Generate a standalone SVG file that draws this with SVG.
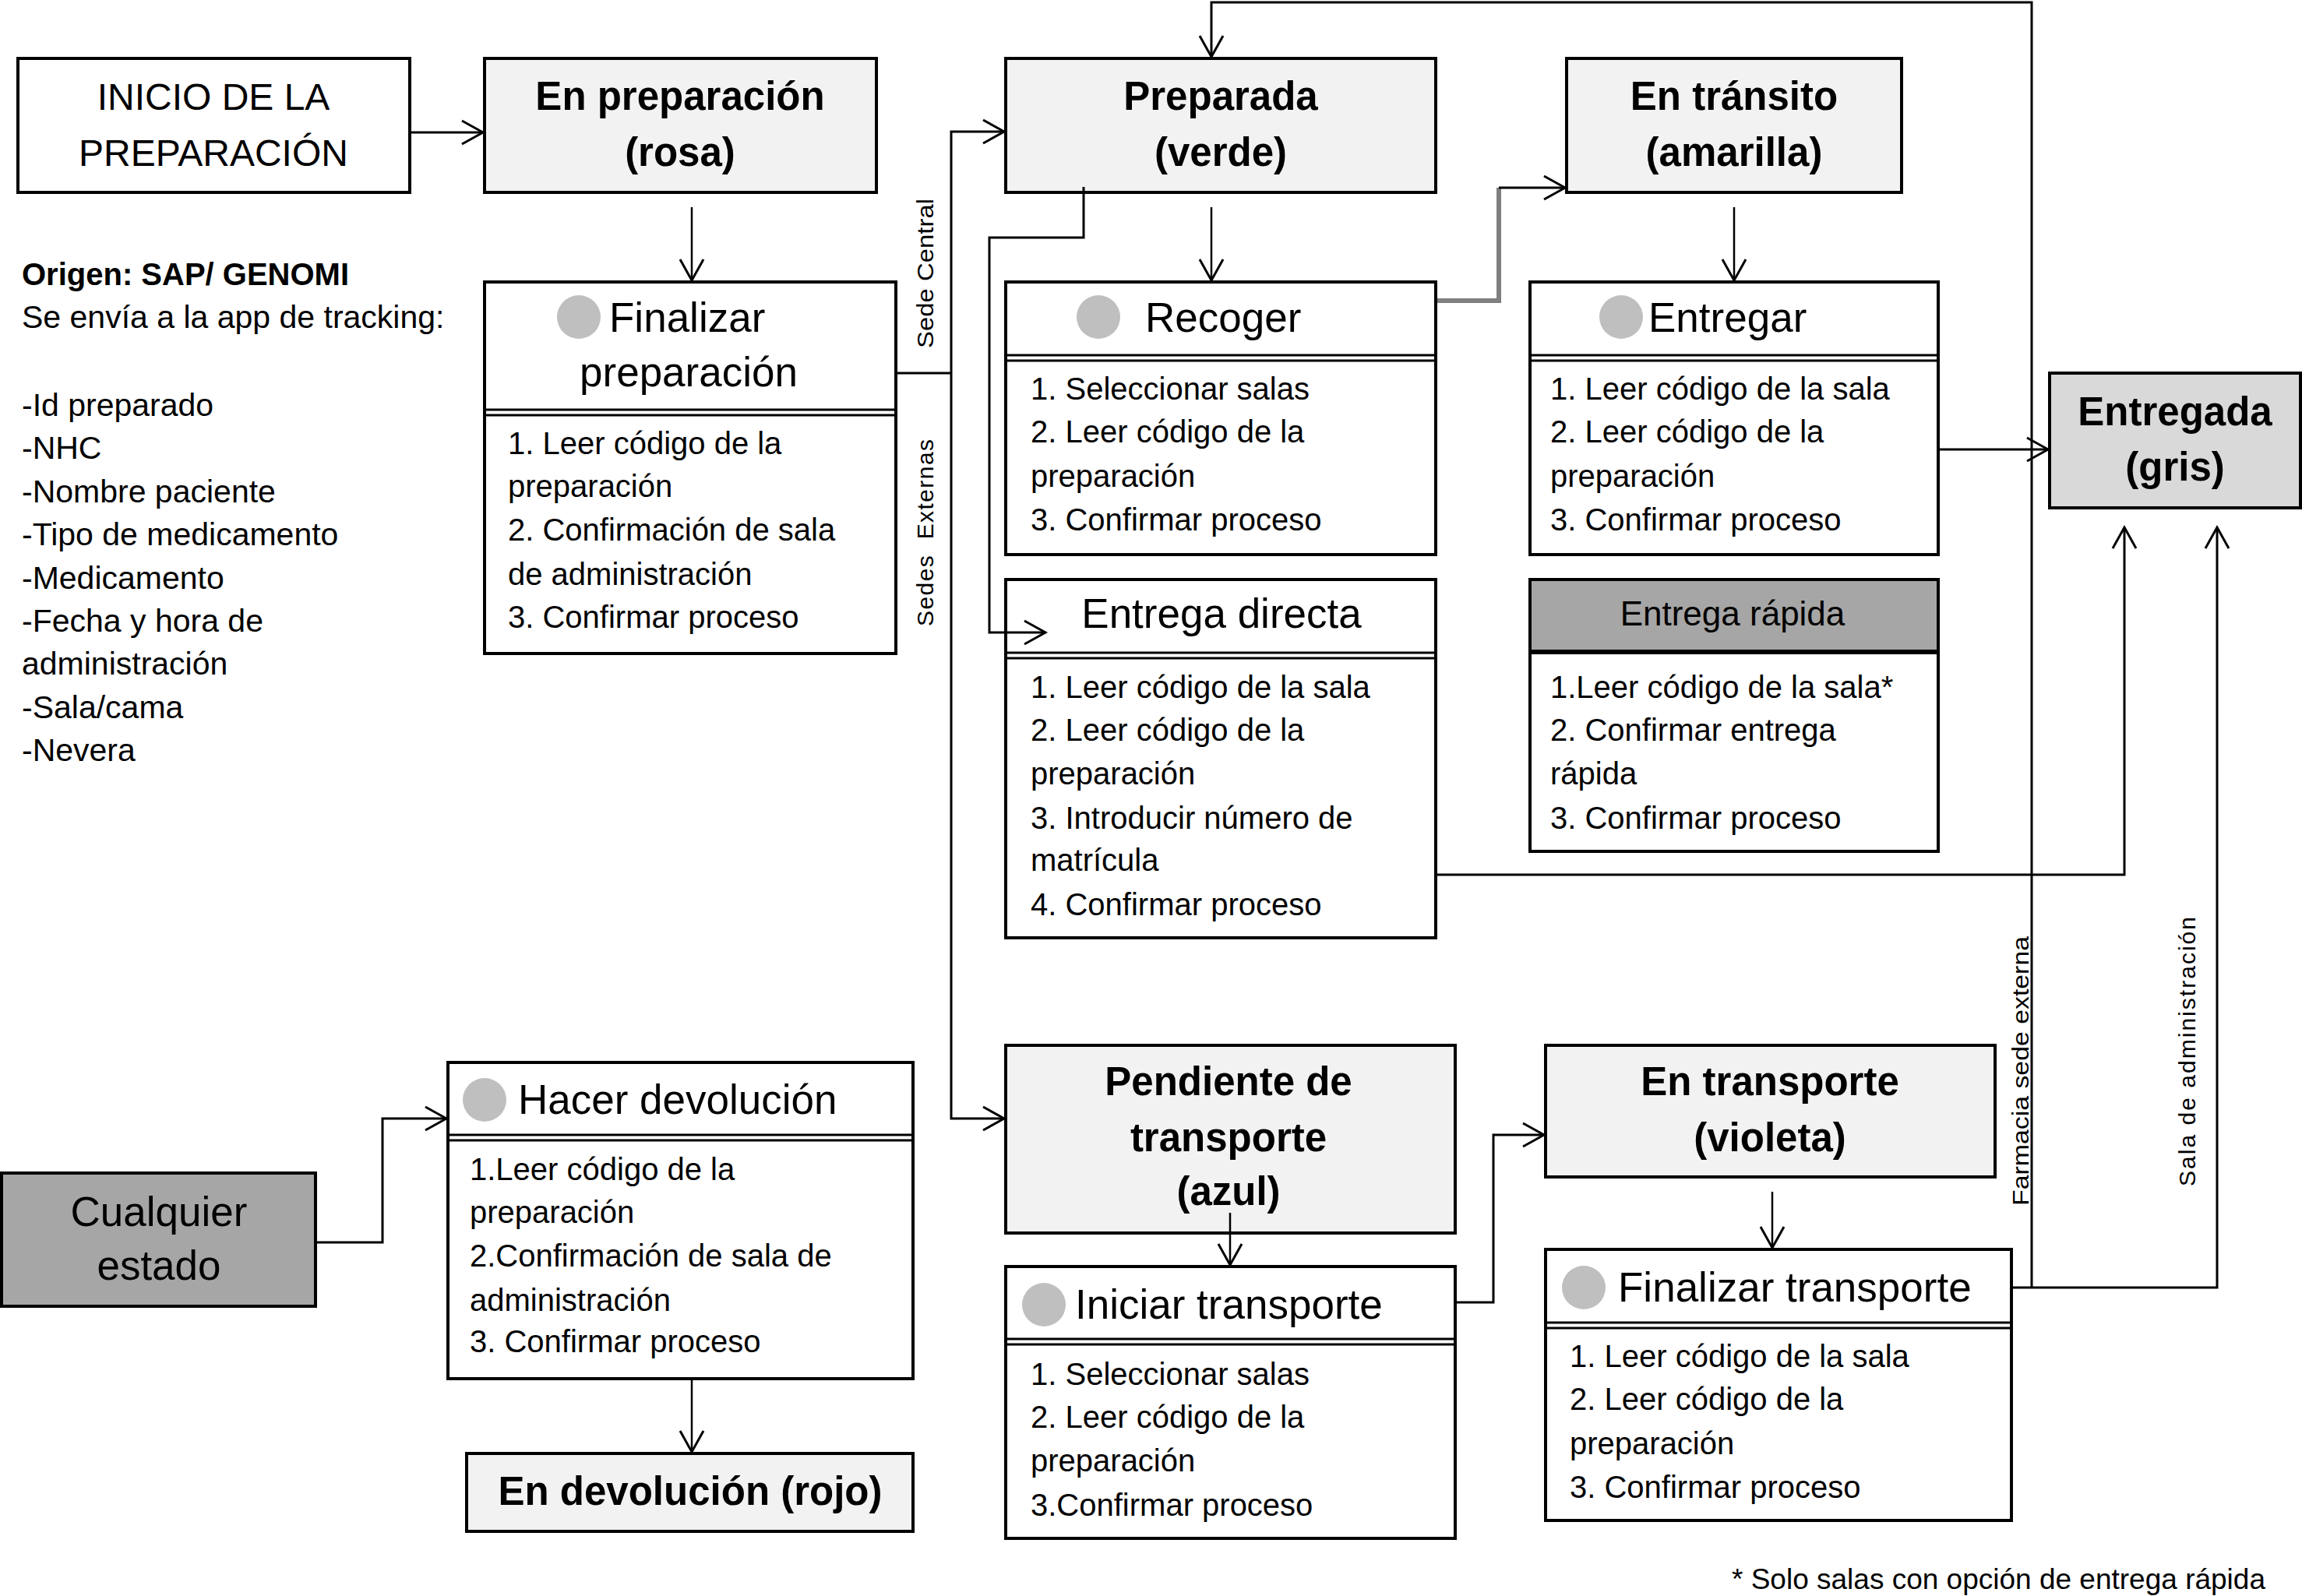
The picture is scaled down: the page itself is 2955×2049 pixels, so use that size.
<svg xmlns="http://www.w3.org/2000/svg" width="2955" height="2049" viewBox="0 0 2955 2049">
<defs>
<style>
text{font-family:"Liberation Sans",Arial,sans-serif;fill:#000}
.box{fill:#fff;stroke:#000;stroke-width:4}
.state{fill:#f2f2f2;stroke:#000;stroke-width:4}
.dark{fill:#a6a6a6;stroke:#000;stroke-width:4}
.grey{fill:#d9d9d9;stroke:#000;stroke-width:4}
.sep{stroke:#000;stroke-width:3}
.dot{fill:#bfbfbf}
.title{font-size:51px;font-weight:bold;text-anchor:middle}
.plain{font-size:50px;text-anchor:middle}
.head{font-size:53px}
.body{font-size:40px}
.lbl{font-size:30px;text-anchor:middle}
.c{fill:none;stroke:#000;stroke-width:3}
.ct{fill:none;stroke:#000;stroke-width:2.5}
.cg{fill:none;stroke:#7f7f7f;stroke-width:6}
</style>
<marker id="arr" markerUnits="userSpaceOnUse" markerWidth="40" markerHeight="40" viewBox="-32 -20 36 40" refX="0" refY="0" orient="auto">
<path d="M-27,-15 L0,0 L-27,15" fill="none" stroke="#000" stroke-width="3"/>
</marker>
</defs>

<g id="inicio">
<rect class="box" x="23" y="75" width="503" height="172"/>
<text class="plain" x="274" y="141" style="font-size:48px">INICIO DE LA</text>
<text class="plain" x="274" y="213" style="font-size:48px">PREPARACIÓN</text>
</g>

<g id="en-preparacion">
<rect class="state" x="622" y="75" width="503" height="172"/>
<text class="title" x="873" y="141">En preparación</text>
<text class="title" x="873" y="213">(rosa)</text>
</g>

<g id="origen">
<text class="body" x="28" y="366" font-weight="bold" style="font-size:40px">Origen: SAP/ GENOMI</text>
<text class="body" x="28" y="421" style="font-size:41px">Se envía a la app de tracking:</text>
<text class="body" x="28" y="534" style="font-size:41px">-Id preparado</text>
<text class="body" x="28" y="589" style="font-size:41px">-NHC</text>
<text class="body" x="28" y="645" style="font-size:41px">-Nombre paciente</text>
<text class="body" x="28" y="700" style="font-size:41px">-Tipo de medicamento</text>
<text class="body" x="28" y="756" style="font-size:41px">-Medicamento</text>
<text class="body" x="28" y="811" style="font-size:41px">-Fecha y hora de</text>
<text class="body" x="28" y="866" style="font-size:41px">administración</text>
<text class="body" x="28" y="922" style="font-size:41px">-Sala/cama</text>
<text class="body" x="28" y="977" style="font-size:41px">-Nevera</text>
</g>

<g id="finalizar-preparacion">
<rect class="box" x="622" y="362" width="528" height="477"/>
<line class="sep" x1="622" y1="526" x2="1150" y2="526"/>
<line class="sep" x1="622" y1="533" x2="1150" y2="533"/>
<circle class="dot" cx="743" cy="407" r="28"/>
<text class="head" x="782" y="426">Finalizar</text>
<text class="head" x="884" y="496" text-anchor="middle">preparación</text>
<text class="body" x="652" y="583">1. Leer código de la</text>
<text class="body" x="652" y="638">preparación</text>
<text class="body" x="652" y="694">2. Confirmación de sala</text>
<text class="body" x="652" y="751">de administración</text>
<text class="body" x="652" y="806">3. Confirmar proceso</text>
</g>

<g id="preparada">
<rect class="state" x="1291" y="75" width="552" height="172"/>
<text class="title" x="1567" y="141">Preparada</text>
<text class="title" x="1567" y="213">(verde)</text>
</g>

<g id="en-transito">
<rect class="state" x="2011" y="75" width="430" height="172"/>
<text class="title" x="2226" y="141">En tránsito</text>
<text class="title" x="2226" y="213">(amarilla)</text>
</g>

<g id="recoger">
<rect class="box" x="1291" y="362" width="552" height="350"/>
<line class="sep" x1="1291" y1="456" x2="1843" y2="456"/>
<line class="sep" x1="1291" y1="463" x2="1843" y2="463"/>
<circle class="dot" cx="1410" cy="407" r="28"/>
<text class="head" x="1470" y="426">Recoger</text>
<text class="body" x="1323" y="513">1. Seleccionar salas</text>
<text class="body" x="1323" y="568">2. Leer código de la</text>
<text class="body" x="1323" y="625">preparación</text>
<text class="body" x="1323" y="681">3. Confirmar proceso</text>
</g>

<g id="entregar">
<rect class="box" x="1964" y="362" width="524" height="350"/>
<line class="sep" x1="1964" y1="456" x2="2488" y2="456"/>
<line class="sep" x1="1964" y1="463" x2="2488" y2="463"/>
<circle class="dot" cx="2081" cy="407" r="28"/>
<text class="head" x="2116" y="426">Entregar</text>
<text class="body" x="1990" y="513">1. Leer código de la sala</text>
<text class="body" x="1990" y="568">2. Leer código de la</text>
<text class="body" x="1990" y="625">preparación</text>
<text class="body" x="1990" y="681">3. Confirmar proceso</text>
</g>

<g id="entregada">
<rect class="grey" x="2631" y="479" width="322" height="173"/>
<text class="title" x="2792" y="546">Entregada</text>
<text class="title" x="2792" y="617">(gris)</text>
</g>

<g id="entrega-directa">
<rect class="box" x="1291" y="744" width="552" height="460"/>
<line class="sep" x1="1291" y1="838" x2="1843" y2="838"/>
<line class="sep" x1="1291" y1="845" x2="1843" y2="845"/>
<text class="head" x="1568" y="806" text-anchor="middle">Entrega directa</text>
<text class="body" x="1323" y="896">1. Leer código de la sala</text>
<text class="body" x="1323" y="951">2. Leer código de la</text>
<text class="body" x="1323" y="1007">preparación</text>
<text class="body" x="1323" y="1064">3. Introducir número de</text>
<text class="body" x="1323" y="1118">matrícula</text>
<text class="body" x="1323" y="1175">4. Confirmar proceso</text>
</g>

<g id="entrega-rapida">
<rect class="box" x="1964" y="744" width="524" height="349"/>
<rect x="1966" y="746" width="520" height="89" fill="#a6a6a6"/>
<line x1="1964" y1="837" x2="2488" y2="837" stroke="#000" stroke-width="6"/>
<text x="2224" y="803" text-anchor="middle" style="font-size:44px">Entrega rápida</text>
<text class="body" x="1990" y="896">1.Leer código de la sala*</text>
<text class="body" x="1990" y="951">2. Confirmar entrega</text>
<text class="body" x="1990" y="1007">rápida</text>
<text class="body" x="1990" y="1064">3. Confirmar proceso</text>
</g>

<g id="cualquier-estado">
<rect class="dark" x="2" y="1506" width="403" height="171"/>
<text class="plain" x="204" y="1574" style="font-size:53px">Cualquier</text>
<text class="plain" x="204" y="1643" style="font-size:53px">estado</text>
</g>

<g id="hacer-devolucion">
<rect class="box" x="575" y="1364" width="597" height="406"/>
<line class="sep" x1="575" y1="1457" x2="1172" y2="1457"/>
<line class="sep" x1="575" y1="1464" x2="1172" y2="1464"/>
<circle class="dot" cx="622" cy="1412" r="28"/>
<text class="head" x="665" y="1430">Hacer devolución</text>
<text class="body" x="603" y="1515">1.Leer código de la</text>
<text class="body" x="603" y="1570">preparación</text>
<text class="body" x="603" y="1626">2.Confirmación de sala de</text>
<text class="body" x="603" y="1683">administración</text>
<text class="body" x="603" y="1736">3. Confirmar proceso</text>
</g>

<g id="en-devolucion">
<rect class="state" x="599" y="1866" width="573" height="100"/>
<text class="title" x="886" y="1932">En devolución (rojo)</text>
</g>

<g id="pendiente-transporte">
<rect class="state" x="1291" y="1342" width="577" height="241"/>
<text class="title" x="1577" y="1406">Pendiente de</text>
<text class="title" x="1577" y="1478">transporte</text>
<text class="title" x="1577" y="1547">(azul)</text>
</g>

<g id="iniciar-transporte">
<rect class="box" x="1291" y="1626" width="577" height="349"/>
<line class="sep" x1="1291" y1="1719" x2="1868" y2="1719"/>
<line class="sep" x1="1291" y1="1726" x2="1868" y2="1726"/>
<circle class="dot" cx="1340" cy="1675" r="28"/>
<text class="head" x="1380" y="1693">Iniciar transporte</text>
<text class="body" x="1323" y="1778">1. Seleccionar salas</text>
<text class="body" x="1323" y="1833">2. Leer código de la</text>
<text class="body" x="1323" y="1889">preparación</text>
<text class="body" x="1323" y="1946">3.Confirmar proceso</text>
</g>

<g id="en-transporte">
<rect class="state" x="1984" y="1342" width="577" height="169"/>
<text class="title" x="2272" y="1406">En transporte</text>
<text class="title" x="2272" y="1478">(violeta)</text>
</g>

<g id="finalizar-transporte">
<rect class="box" x="1984" y="1604" width="598" height="348"/>
<line class="sep" x1="1984" y1="1698" x2="2582" y2="1698"/>
<line class="sep" x1="1984" y1="1705" x2="2582" y2="1705"/>
<circle class="dot" cx="2033" cy="1653" r="28"/>
<text class="head" x="2077" y="1671">Finalizar transporte</text>
<text class="body" x="2015" y="1755">1. Leer código de la sala</text>
<text class="body" x="2015" y="1810">2. Leer código de la</text>
<text class="body" x="2015" y="1867">preparación</text>
<text class="body" x="2015" y="1923">3. Confirmar proceso</text>
</g>

<g id="nota">
<text x="2908" y="2040" text-anchor="end" style="font-size:37px">* Solo salas con opción de entrega rápida</text>
</g>

<g id="connectors">
<line class="c" x1="526" y1="170" x2="620" y2="170" marker-end="url(#arr)"/>
<line class="ct" x1="888" y1="266" x2="888" y2="360" marker-end="url(#arr)"/>
<polyline class="c" points="1150,479 1221,479"/>
<polyline class="c" points="1221,479 1221,169 1289,169" marker-end="url(#arr)"/>
<polyline class="c" points="1221,479 1221,1436 1289,1436" marker-end="url(#arr)"/>
<line class="ct" x1="1555" y1="266" x2="1555" y2="360" marker-end="url(#arr)"/>
<polyline class="c" points="1391,240 1391,305 1270,305 1270,812 1342,812" marker-end="url(#arr)"/>
<polyline class="cg" points="1845,386 1924,386 1924,241"/>
<polyline class="c" points="1924,241 2009,241" marker-end="url(#arr)"/>
<line class="ct" x1="2226" y1="266" x2="2226" y2="360" marker-end="url(#arr)"/>
<line class="c" x1="2490" y1="577" x2="2629" y2="577" marker-end="url(#arr)"/>
<polyline class="c" points="1845,1123 2727,1123 2727,677" marker-end="url(#arr)"/>
<polyline class="c" points="2584,1653 2846,1653 2846,677" marker-end="url(#arr)"/>
<polyline class="c" points="2608,1653 2608,3 1555,3 1555,73" marker-end="url(#arr)"/>
<line class="ct" x1="1579" y1="1557" x2="1579" y2="1624" marker-end="url(#arr)"/>
<polyline class="c" points="1870,1672 1917,1672 1917,1457 1982,1457" marker-end="url(#arr)"/>
<line class="ct" x1="2275" y1="1530" x2="2275" y2="1602" marker-end="url(#arr)"/>
<polyline class="c" points="407,1595 491,1595 491,1436 573,1436" marker-end="url(#arr)"/>
<line class="ct" x1="888" y1="1772" x2="888" y2="1864" marker-end="url(#arr)"/>
<text class="lbl" transform="translate(1198,351) rotate(-90)" textLength="192" lengthAdjust="spacingAndGlyphs">Sede Central</text>
<text class="lbl" transform="translate(1198,684) rotate(-90)" textLength="240" lengthAdjust="spacing" xml:space="preserve">Sedes  Externas</text>
<text class="lbl" transform="translate(2604,1375) rotate(-90)" textLength="346" lengthAdjust="spacingAndGlyphs">Farmacia sede externa</text>
<text class="lbl" transform="translate(2818,1350) rotate(-90)" textLength="346" lengthAdjust="spacing">Sala de administración</text>
</g>
</svg>
